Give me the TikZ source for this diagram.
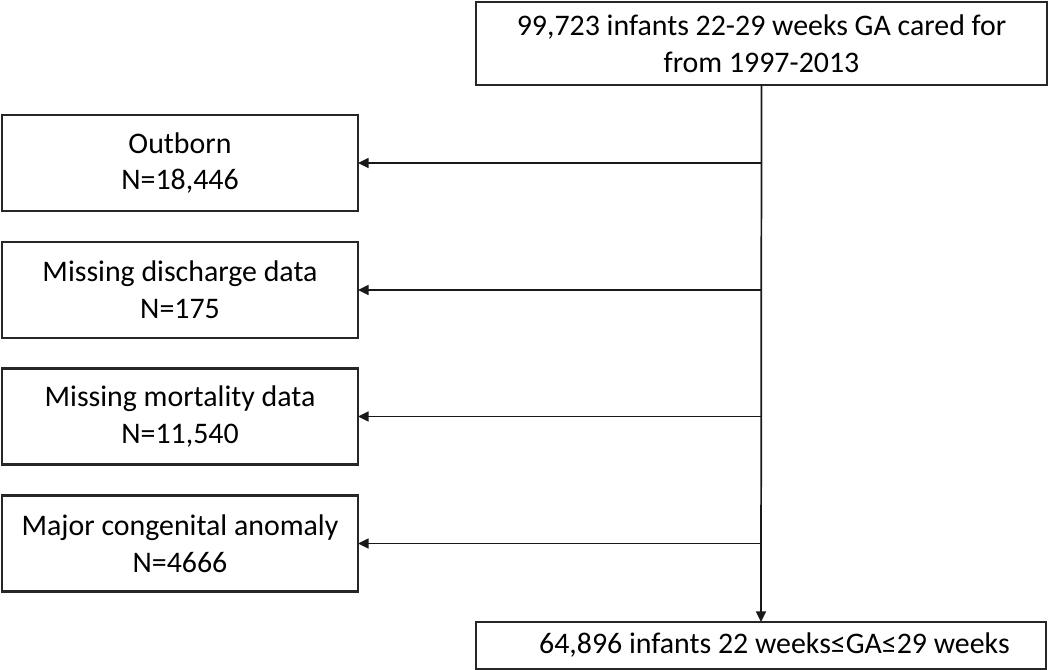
\documentclass[tikz,border=0pt]{standalone}
\usepackage{fontspec}
\setmainfont{Carlito}
\usetikzlibrary{arrows.meta}
\begin{document}
\begin{tikzpicture}[x=0.75pt,y=-0.75pt,
  box/.style={draw=black!85, line width=1.7pt, align=center, inner sep=0pt, outer sep=0pt,
    font=\fontsize{22.4}{27.5}\selectfont},
  sidebox/.style={box, minimum width=267pt, minimum height=72pt},
  conn/.style={draw=black!90, line width=1.3pt},
  arr/.style={conn, -{Triangle[length=8pt,width=7.5pt]}}]
\useasboundingbox (0,0) rectangle (1050,670);
\node[box, minimum width=428.25pt, minimum height=62.25pt] (top) at (761.5,43.5)
  {99,723 infants 22-29 weeks GA cared for\\from 1997-2013};
\node[sidebox] (b1) at (180,163) {Outborn\\N=18,446};
\node[sidebox] (b2) at (180,290) {Missing discharge data\\N=175};
\node[sidebox] (b3) at (180,416.5) {Missing mortality data\\N=11,540};
\node[sidebox] (b4) at (180,543.5) {Major congenital anomaly\\N=4666};
\node[box, minimum width=427.5pt, minimum height=35.25pt] (bot) at (761,645.5)
  {\hspace*{20pt}64,896 infants 22 weeks≤GA≤29 weeks};
\draw[arr] (top.south) -- (bot.north);
\foreach \b in {b1,b2,b3,b4}{
  \draw[arr] (top.south |- \b.east) -- (\b.east);
}
\end{tikzpicture}
\end{document}
